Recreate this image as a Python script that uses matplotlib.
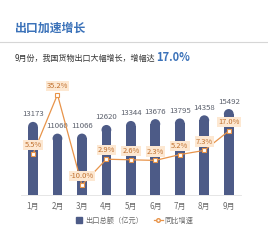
import matplotlib.pyplot as plt
from matplotlib.patches import Ellipse
from matplotlib.lines import Line2D

plt.rcParams['font.family'] = ['Noto Sans CJK SC', 'DejaVu Sans']

# data
months = ['1月', '2月', '3月', '4月', '5月', '6月', '7月', '8月', '9月']
export_total = [13173, 11060, 11066, 12620, 13344, 13676, 13795, 14358, 15492]
yoy_growth = [5.5, 35.2, -10.0, 2.9, 2.6, 2.3, 5.2, 7.3, 17.0]

bar_color = '#4d5b87'
line_color = '#e8944a'
title_color = '#3b72b9'

W, H = 268, 244
fig = plt.figure(figsize=(W / 100, H / 100), dpi=100)

# axes placed in pixel terms: left 20.75, right 241, top y=85, bottom y=195
ax = fig.add_axes([20.75 / W, 1 - 195 / H, 220.25 / W, 110 / H])
ax2 = ax.twinx()
ax.set_xlim(-0.5, 8.5)
ax.set_ylim(0, 19820)
ax2.set_ylim(-15, 40)
for a in (ax, ax2):
    for s in a.spines.values():
        s.set_visible(False)
    a.set_yticks([])
ax.spines['bottom'].set_visible(True)
ax.spines['bottom'].set_color('#e2e2e2')
ax.spines['bottom'].set_linewidth(0.6)

x = list(range(len(months)))
bw = 0.4
# rounded tops: cap height in data units matches half the bar width in pixels
px_per_x = ax.get_window_extent().width / 9
px_per_y = ax.get_window_extent().height / 19820
r_y = (bw * px_per_x / 2) / px_per_y
ax.bar(x, [v - r_y for v in export_total], width=bw, color=bar_color, zorder=2)
for xi, v in zip(x, export_total):
    ax.add_patch(Ellipse((xi, v - r_y), bw, 2 * r_y, color=bar_color, zorder=2, lw=0))
    ax.annotate(str(v), (xi, v), xytext=(0, 2.5), textcoords='offset points',
                ha='center', va='bottom', fontsize=5.6, color='#5a5f6b')

ax2.plot(x, yoy_growth, color=line_color, lw=0.9, marker='s', ms=2.6,
         mfc='white', mec=line_color, mew=0.8, zorder=3)
for xi, g in zip(x, yoy_growth):
    ax2.annotate('%.1f%%' % g, (xi, g), xytext=(0, 3.5), textcoords='offset points',
                 ha='center', va='bottom', fontsize=5.4, color='#c0702e',
                 bbox=dict(boxstyle='square,pad=0.15', fc='#fde8d2', ec='none'), zorder=4)

ax.set_xticks(x)
ax.set_xticklabels(months, fontsize=5.8, color='#6b6b6b')
ax.tick_params(axis='x', length=0, pad=5)

handles = [Line2D([], [], ls='none', marker='s', ms=4, color=bar_color),
           Line2D([], [], color=line_color, lw=0.9, marker='o', ms=2.6,
                  mfc='white', mec=line_color)]
fig.legend(handles, ['出口总额（亿元）', '同比增速'], loc='center',
           bbox_to_anchor=(134 / W, 1 - 221 / H), ncol=2, frameon=False,
           fontsize=5.2, labelcolor='#6b6b6b', handlelength=1.2,
           handletextpad=0.3, columnspacing=1.5)

# header
fig.text(15 / W, 1 - 28 / H, '出口加速增长', fontsize=8.6, fontweight='bold',
         color=title_color, va='center', ha='left')
fig.add_artist(Line2D([0, 1], [1 - 42 / H, 1 - 42 / H], color='#d6d6d6', lw=0.8))
t1 = fig.text(15 / W, 1 - 58 / H, '9月份，我国货物出口大幅增长，增幅达', fontsize=5.8,
              color='#333333', va='center', ha='left')
fig.add_artist(plt.Annotation('17.0%', xy=(1, 0.5), xycoords=t1, xytext=(0.5, 0),
                              textcoords='offset points', fontsize=8, fontweight='bold',
                              color=title_color, va='center', ha='left'))

fig.savefig('out.png', dpi=100)
